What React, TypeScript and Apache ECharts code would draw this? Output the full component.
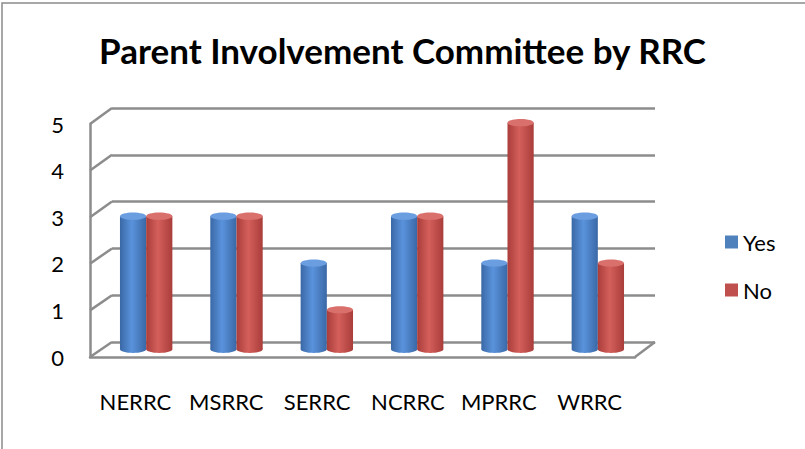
import React, { useEffect, useRef } from 'react';
import * as echarts from 'echarts';

const categories = ['NERRC', 'MSRRC', 'SERRC', 'NCRRC', 'MPRRC', 'WRRC'];
const yesValues = [3, 3, 2, 3, 2, 3];
const noValues = [3, 3, 1, 3, 5, 2];
const yTicks = [0, 1, 2, 3, 4, 5];
const seriesNames = ['Yes', 'No'];

const FONT = 'Lato, "Open Sans", sans-serif';
const LINE = '#8c8c8c';
const FRONT = { left: 90, right: 635, top: 124, bottom: 357 };
const BACK = { left: 112, right: 655, top: 108, bottom: 342 };
const BARS = { left: 101, right: 643, top: 119, bottom: 353 };
const W = 805;
const H = 449;

function makeRender(side: number, dark: string, light: string, topFill: string) {
  return (params: any, api: any) => {
    const cat = api.value(0);
    const v = api.value(1);
    const top = api.coord([cat, v]);
    const base = api.coord([cat, 0]);
    const band = api.size([1, 0])[0];
    const w = band * 0.29;
    const cx = top[0] + (side * w) / 2;
    const ry = w * 0.14;
    const grad = new echarts.graphic.LinearGradient(0, 0, 1, 0, [
      { offset: 0, color: dark },
      { offset: 0.45, color: light },
      { offset: 1, color: dark },
    ]);
    return {
      type: 'group',
      children: [
        { type: 'ellipse', shape: { cx, cy: base[1] - ry, rx: w / 2, ry }, style: { fill: grad } },
        {
          type: 'rect',
          shape: { x: cx - w / 2, y: top[1] + ry, width: w, height: base[1] - top[1] - 2 * ry },
          style: { fill: grad },
        },
        { type: 'ellipse', shape: { cx, cy: top[1] + ry, rx: w / 2, ry }, style: { fill: topFill } },
      ],
    };
  };
}

export default function App() {
  const ref = useRef<HTMLDivElement>(null);
  useEffect(() => {
    document.body.style.margin = '0';
    const chart = echarts.init(ref.current!, null, { renderer: 'svg' });
    const gridOf = (b: any) => ({ left: b.left, right: W - b.right, top: b.top, bottom: H - b.bottom });
    chart.setOption({
      animation: false,
      backgroundColor: '#ffffff',
      title: {
        text: 'Parent Involvement Committee by RRC',
        left: 'center',
        top: 27,
        textStyle: { fontFamily: FONT, fontWeight: 'bold', fontSize: 35, color: '#000' },
      },
      legend: {
        orient: 'vertical',
        left: 720,
        top: 226,
        icon: 'rect',
        itemWidth: 13,
        itemHeight: 13,
        itemGap: 26,
        data: seriesNames,
        textStyle: { fontFamily: FONT, fontSize: 22, color: '#000' },
      },
      grid: [gridOf(BACK), gridOf(BARS), gridOf(FRONT)],
      xAxis: [
        { type: 'category', gridIndex: 0, data: categories, show: false },
        { type: 'category', gridIndex: 1, data: categories, show: false },
        {
          type: 'category',
          gridIndex: 2,
          data: categories,
          axisLine: { lineStyle: { color: LINE, width: 2.5 } },
          axisTick: { show: false },
          axisLabel: { interval: 0, hideOverlap: false, margin: 33, fontFamily: FONT, fontSize: 22, color: '#000' },
        },
      ],
      yAxis: [
        {
          type: 'value',
          gridIndex: 0,
          min: 0,
          max: 5,
          interval: 1,
          axisLine: { show: false },
          axisTick: { show: false },
          axisLabel: { show: false },
          splitLine: { lineStyle: { color: LINE, width: 2.5 } },
        },
        { type: 'value', gridIndex: 1, min: 0, max: 5, interval: 1, show: false },
        {
          type: 'value',
          gridIndex: 2,
          min: 0,
          max: 5,
          interval: 1,
          axisLine: { show: true, lineStyle: { color: LINE, width: 2.5 } },
          axisTick: { show: false },
          splitLine: { show: false },
          axisLabel: { margin: 26, fontFamily: FONT, fontSize: 22, color: '#000' },
        },
      ],
      series: [
        {
          name: seriesNames[0],
          type: 'custom',
          xAxisIndex: 1,
          yAxisIndex: 1,
          itemStyle: { color: '#4F81BD' },
          encode: { x: 0, y: 1 },
          data: categories.map((_, i) => [i, yesValues[i]]),
          renderItem: makeRender(-1, '#3a68a6', '#5a93dc', '#6b9ee0'),
        },
        {
          name: seriesNames[1],
          type: 'custom',
          xAxisIndex: 1,
          yAxisIndex: 1,
          itemStyle: { color: '#C0504D' },
          encode: { x: 0, y: 1 },
          data: categories.map((_, i) => [i, noValues[i]]),
          renderItem: makeRender(1, '#a93d3a', '#d45f5b', '#d9706c'),
        },
      ],
    });
    const graphics: any[] = [];
    yTicks.forEach((t) => {
      const yf = chart.convertToPixel({ yAxisIndex: 2 }, t) as number;
      const yb = chart.convertToPixel({ yAxisIndex: 0 }, t) as number;
      graphics.push({
        type: 'line',
        shape: { x1: FRONT.left, y1: yf, x2: BACK.left, y2: yb },
        style: { stroke: LINE, lineWidth: 2.5 },
      });
    });
    const yf0 = chart.convertToPixel({ yAxisIndex: 2 }, 0) as number;
    const yb0 = chart.convertToPixel({ yAxisIndex: 0 }, 0) as number;
    graphics.push({
      type: 'line',
      shape: { x1: FRONT.right, y1: yf0, x2: BACK.right, y2: yb0 },
      style: { stroke: LINE, lineWidth: 2.5 },
    });
    graphics.push({
      type: 'rect',
      shape: { x: 2, y: 3, width: 900, height: 900 },
      style: { fill: 'none', stroke: '#8a8a8a', lineWidth: 1.5 },
    });
    chart.setOption({ graphic: graphics });
    return () => chart.dispose();
  }, []);
  return <div ref={ref} style={{ position: 'fixed', left: 0, top: 0, width: W, height: H }} />;
}
